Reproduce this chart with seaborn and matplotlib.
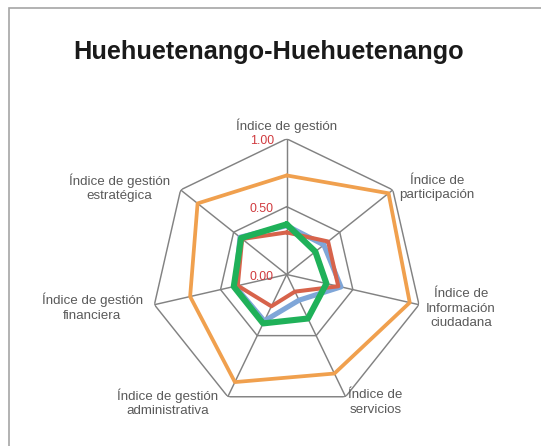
import numpy as np
import matplotlib
matplotlib.use("Agg")
import matplotlib.pyplot as plt
import seaborn as sns

# ---- data ----
categories = ['Índice de gestión',
              'Índice de\nparticipación',
              'Índice de\nInformación\nciudadana',
              'Índice de\nservicios',
              'Índice de gestión\nadministrativa',
              'Índice de gestión\nfinanciera',
              'Índice de gestión\nestratégica']
serie_naranja = [0.73, 0.96, 0.93, 0.81, 0.88, 0.73, 0.84]
serie_azul = [0.36, 0.35, 0.41, 0.21, 0.38, 0.39, 0.44]
serie_roja = [0.31, 0.39, 0.39, 0.14, 0.26, 0.37, 0.42]
serie_verde = [0.37, 0.27, 0.30, 0.36, 0.40, 0.40, 0.43]
tick_values = [0.0, 0.5, 1.0]
tick_labels = ['0.00', '0.50', '1.00']
title = 'Huehuetenango-Huehuetenango'

sns.set_theme(style='white')
plt.rcParams['font.family'] = ['Liberation Sans', 'DejaVu Sans']

W, H = 541, 446
fig = plt.figure(figsize=(W / 100, H / 100), dpi=100)
cx, cy, R = 286.7, 274.5, 135.7
ax = fig.add_axes([(cx - R) / W, (H - cy - R) / H, 2 * R / W, 2 * R / H],
                  projection='polar')
ax.set_theta_offset(np.pi / 2)
ax.set_theta_direction(-1)
ax.set_ylim(0, 1)
ax.grid(False)
ax.spines['polar'].set_visible(False)
ax.patch.set_alpha(0)

n = len(categories)
angles = np.linspace(0, 2 * np.pi, n, endpoint=False)
closed = np.append(angles, 2 * np.pi)

grid_c = '#828282'
for lvl in tick_values[1:]:
    ax.plot(closed, [lvl] * (n + 1), color=grid_c, lw=1.05, zorder=1)
for a in angles:
    ax.plot([a, a], [0, tick_values[-1]], color=grid_c, lw=1.05, zorder=1)

series = [(serie_azul, '#7fa6d8', 3.7),
          (serie_roja, '#d7634b', 2.9),
          (serie_naranja, '#f0a04e', 2.7),
          (serie_verde, '#1fb159', 4.4)]
for z, (vals, col, lw) in enumerate(series):
    sns.lineplot(x=closed, y=list(vals) + [vals[0]], ax=ax, sort=False,
                 estimator=None, color=col, linewidth=lw, zorder=3 + z,
                 solid_joinstyle='round')
ax.set_xlabel('')
ax.set_ylabel('')
ax.set_xticks([])
ax.set_yticks([])
ax.set_ylim(0, 1)

for v, t in zip(tick_values, tick_labels):
    ax.annotate(t, xy=(0, v), xytext=(-13, -2), textcoords='offset pixels',
                ha='right', va='center', color='#d03a3e', fontsize=8.9,
                zorder=10)

offsets = [(0, 13), (44, 2), (42, -4), (30, -6), (-60, -6), (-62, -2.5), (-61, 2)]
for a, cat, (dx, dy) in zip(angles, categories, offsets):
    ax.annotate(cat, xy=(a, 1.0), xytext=(dx, dy), textcoords='offset pixels',
                ha='center', va='center', multialignment='center',
                linespacing=1.3, fontsize=9.6, color='#5a5a5a',
                annotation_clip=False)

fig.text(269 / W, 1 - 52 / H, title, ha='center', va='center',
         fontsize=18.2, fontweight='bold', color='#1a1a1a')

fig.add_artist(plt.Rectangle((9 / W, -0.1), 2, 1 - 8 / H + 0.1,
                             transform=fig.transFigure, fill=False,
                             edgecolor='#a6a6a6', lw=1.2))

fig.savefig('out.png', dpi=100)
